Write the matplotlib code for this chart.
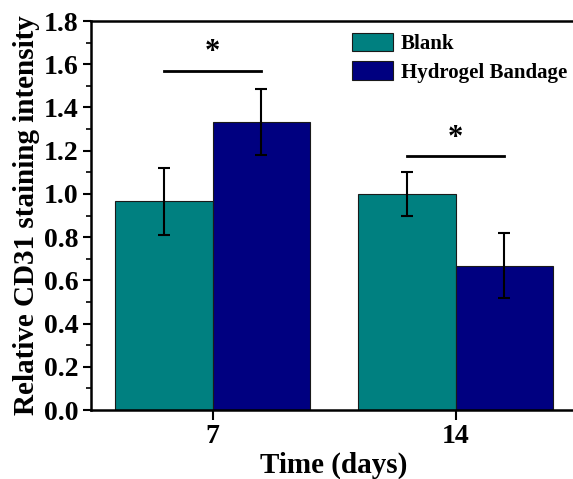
import numpy as np
import matplotlib
matplotlib.use('Agg')
import matplotlib.pyplot as plt
from matplotlib.ticker import MultipleLocator, FormatStrFormatter

plt.rcParams['font.family'] = ['Liberation Serif', 'DejaVu Serif']
plt.rcParams['font.weight'] = 'bold'

days = ['7', '14']
blank = [0.967, 1.0]
blank_err = [0.155, 0.10]
hydrogel = [1.333, 0.667]
hydrogel_err = [0.153, 0.15]
sig_y = [1.57, 1.175]
sig_text = ['*', '*']

C_BLANK = '#008080'
C_HYD = '#000080'

fig = plt.figure(figsize=(5.73, 4.79), dpi=100)
ax = fig.add_axes([91 / 573, 69 / 479, 486 / 573, 389 / 479])

x = np.arange(len(days))
w = 0.4
ax.bar(x - w / 2, blank, w, color=C_BLANK, edgecolor='#1a1a1a', linewidth=0.8,
       label='Blank')
ax.bar(x + w / 2, hydrogel, w, color=C_HYD, edgecolor='#1a1a1a', linewidth=0.8,
       label='Hydrogel Bandage')
ax.errorbar(x - w / 2, blank, yerr=blank_err, fmt='none', ecolor='black',
            elinewidth=1.5, capsize=4, capthick=1.5)
ax.errorbar(x + w / 2, hydrogel, yerr=hydrogel_err, fmt='none', ecolor='black',
            elinewidth=1.5, capsize=4, capthick=1.5)

# significance markers
for i in range(len(days)):
    ax.plot([x[i] - 0.2, x[i] + 0.2], [sig_y[i], sig_y[i]], color='black', lw=2)
    ax.text(x[i], sig_y[i] + 0.015, sig_text[i], ha='center', va='bottom',
            fontsize=22, fontweight='bold')

ax.set_xlim(-0.5, 1.5)
ax.set_ylim(0, 1.8)
ax.set_xticks(x)
ax.set_xticklabels(days)
ax.yaxis.set_major_locator(MultipleLocator(0.2))
ax.yaxis.set_minor_locator(MultipleLocator(0.1))
ax.yaxis.set_major_formatter(FormatStrFormatter('%.1f'))
ax.tick_params(axis='both', which='major', labelsize=20, width=1.5, length=6,
               direction='out', pad=3)
ax.tick_params(axis='x', which='major', length=7)
ax.tick_params(axis='y', which='minor', width=1.2, length=3.5, direction='out')
for lab in ax.get_xticklabels() + ax.get_yticklabels():
    lab.set_fontweight('bold')
for s in ax.spines.values():
    s.set_linewidth(1.8)

ax.set_xlabel('Time (days)', fontsize=21, fontweight='bold', labelpad=2)
ax.set_ylabel('Relative CD31 staining intensity', fontsize=21, fontweight='bold',
              labelpad=3)

ax.legend(loc='upper left', bbox_to_anchor=(0.538, 0.97), frameon=False,
          handlelength=1.95, handleheight=1.0, handletextpad=0.38,
          labelspacing=0.35, borderaxespad=0, borderpad=0,
          prop={'weight': 'bold', 'size': 15})

fig.savefig('out.png', dpi=100)
